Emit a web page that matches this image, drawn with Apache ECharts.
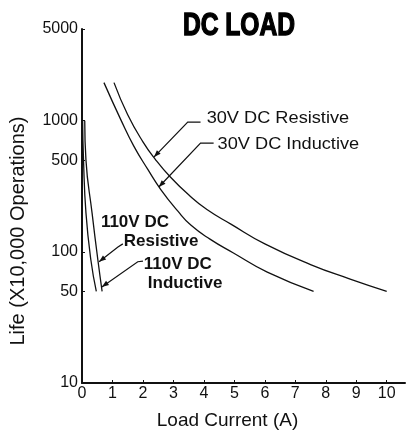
<!DOCTYPE html>
<html>
<head>
<meta charset="utf-8">
<script src="https://cdn.jsdelivr.net/npm/echarts@6/dist/echarts.min.js"></script>
<style>
  html, body { margin: 0; padding: 0; background: #ffffff; }
  #chart { width: 407px; height: 441px; }
</style>
</head>
<body>
<div id="chart"></div>
<script>
// Axis ticks
const xTicks = [0, 1, 2, 3, 4, 5, 6, 7, 8, 9, 10];
const yTicks = [10, 50, 100, 500, 1000, 5000];

// Life curves: load current (A) vs life (x10,000 operations)
const res30X = [1.05, 1.5, 2.0, 2.4, 2.9, 3.5, 4.1, 4.9, 6.0, 7.5, 8.8, 10.0];
const res30Y = [1950, 1110, 690, 510, 372, 272, 210, 162, 115, 80, 62, 50];

const ind30X = [0.72, 1.28, 1.7, 2.16, 2.58, 3.14, 3.57, 4.2, 4.97, 6.08, 7.6];
const ind30Y = [1950, 1010, 640, 425, 300, 205, 160, 125, 98, 70, 50];

const res110X = [0.09, 0.13, 0.33, 0.52, 0.66];
const res110Y = [1000, 500, 198, 87, 50];

const ind110X = [0.02, 0.05, 0.13, 0.29, 0.47];
const ind110Y = [1000, 500, 198, 87, 50];

const pairs = (xs, ys) => xs.map((x, i) => [x, ys[i]]);

const INK = '#111111';
const FONT = 'Liberation Sans, Arial, sans-serif';

const curve = (name, xs, ys) => ({
  name: name,
  type: 'line',
  data: pairs(xs, ys),
  smooth: 0.5,
  symbol: 'none',
  lineStyle: { color: INK, width: 1.3 },
  z: 3
});

const option = {
  animation: false,
  backgroundColor: '#ffffff',
  grid: { left: 81, right: 2, top: 29, bottom: 58, containLabel: false },
  xAxis: {
    type: 'value',
    min: 0,
    max: 10.6,
    name: 'Load Current (A)',
    nameLocation: 'middle',
    nameGap: 28,
    nameTextStyle: { fontFamily: FONT, fontSize: 19, color: INK, padding: [0, 32, 0, 0] },
    axisLine: { lineStyle: { color: INK, width: 2 } },
    axisTick: { show: true, inside: true, length: 3, customValues: xTicks, lineStyle: { color: INK } },
    axisLabel: { customValues: xTicks, fontFamily: FONT, fontSize: 16, color: INK, margin: 3 },
    splitLine: { show: false }
  },
  yAxis: {
    type: 'log',
    logBase: 10,
    min: 10,
    max: 5000,
    name: 'Life (X10,000 Operations)',
    nameLocation: 'middle',
    nameGap: 54,
    nameTextStyle: { fontFamily: FONT, fontSize: 20, color: INK, padding: [0, 50, 0, 0] },
    axisLine: { lineStyle: { color: INK, width: 2 } },
    axisTick: { show: true, inside: true, length: 3, customValues: yTicks, lineStyle: { color: INK } },
    axisLabel: {
      customValues: yTicks,
      formatter: v => String(v),
      fontFamily: FONT, fontSize: 16, color: INK, margin: 4,
      padding: [11, 0, 0, 0]
    },
    splitLine: { show: false }
  },
  series: [
    curve('30V DC Resistive', res30X, res30Y),
    curve('30V DC Inductive', ind30X, ind30Y),
    curve('110V DC Resistive', res110X, res110Y),
    curve('110V DC Inductive', ind110X, ind110Y)
  ]
};

const chart = echarts.init(document.getElementById('chart'), null, { renderer: 'canvas' });
chart.setOption(option);

// Callout labels with leader lines, anchored in data space (current A, life)
const callouts = [
  { lines: [{ text: '30V DC Resistive', at: [4.09, 1048] }], bold: false,
    leader: [[3.89, 975], [3.47, 975], [2.36, 528]] },
  { lines: [{ text: '30V DC Inductive', at: [4.45, 664] }], bold: false,
    leader: [[4.32, 675], [3.89, 675], [2.52, 312]] },
  { lines: [{ text: '110V DC', at: [0.62, 169] }, { text: 'Resistive', at: [1.37, 121] }], bold: true,
    leader: [[1.34, 115], [1.18, 109], [0.56, 84]] },
  { lines: [{ text: '110V DC', at: [2.03, 81] }, { text: 'Inductive', at: [2.16, 58] }], bold: true,
    leader: [[2.0, 85], [1.83, 84], [0.65, 54]] }
];

const toPx = p => chart.convertToPixel({ gridIndex: 0 }, p);
const elements = [];

// Heavy condensed heading
elements.push({
  type: 'text',
  x: 239, y: 26,
  scaleX: 0.77,
  style: {
    text: 'DC LOAD',
    fill: '#000',
    stroke: '#000',
    lineWidth: 1.4,
    font: 'bold 32px ' + FONT,
    textAlign: 'center',
    verticalAlign: 'middle'
  },
  z: 10
});

callouts.forEach(c => {
  c.lines.forEach(l => {
    const p = toPx(l.at);
    elements.push({
      type: 'text',
      x: p[0], y: p[1],
      scaleX: c.bold ? 1.0 : 1.07,
      style: {
        text: l.text,
        fill: INK,
        font: (c.bold ? 'bold 17px ' : '17px ') + FONT,
        textAlign: 'left',
        verticalAlign: 'middle'
      },
      z: 10
    });
  });
  const pts = c.leader.map(toPx);
  elements.push({
    type: 'polyline',
    shape: { points: pts },
    style: { stroke: INK, lineWidth: 1.2, fill: null },
    z: 10
  });
  // arrowhead at the leader tip
  const a = pts[pts.length - 2], b = pts[pts.length - 1];
  const dx = b[0] - a[0], dy = b[1] - a[1];
  const len = Math.hypot(dx, dy);
  const ux = dx / len, uy = dy / len;
  const L = 7, W = 2.6;
  const bx = b[0] - ux * L, by = b[1] - uy * L;
  elements.push({
    type: 'polygon',
    shape: { points: [b, [bx - uy * W, by + ux * W], [bx + uy * W, by - ux * W]] },
    style: { fill: INK, stroke: null },
    z: 10
  });
});
chart.setOption({ graphic: { elements: elements } });
</script>
</body>
</html>
